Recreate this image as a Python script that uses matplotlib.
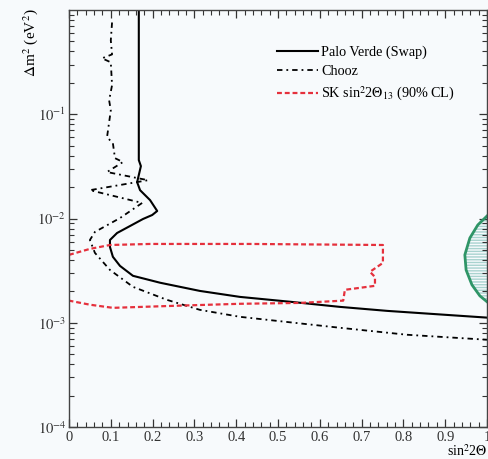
import matplotlib
matplotlib.use("Agg")
import matplotlib.pyplot as plt
from matplotlib.ticker import AutoMinorLocator, LogLocator, NullFormatter

plt.rcParams['font.family'] = ['Liberation Serif', 'DejaVu Serif']
plt.rcParams['mathtext.fontset'] = 'stix'

# Palo Verde (Swap) exclusion contour
pv_x = [0.167, 0.167, 0.167, 0.167, 0.172, 0.163, 0.170, 0.194, 0.211, 0.199, 0.177,
        0.146, 0.115, 0.098, 0.098, 0.105, 0.122, 0.153, 0.218, 0.313, 0.409, 0.529,
        0.648, 0.761, 1.0]
pv_dm2 = [1.0, 0.329, 0.109, 0.0363, 0.0318, 0.0223, 0.0187, 0.0150, 0.0118, 0.0108, 0.00989,
          0.00847, 0.00726, 0.00622, 0.00533, 0.00429, 0.00351, 0.00282, 0.00242, 0.00202, 0.00177, 0.00159,
          0.00142, 0.00130, 0.00112]

# Chooz exclusion contour
ch_x = [0.103, 0.100, 0.103, 0.079, 0.100, 0.103, 0.096, 0.100, 0.091, 0.105, 0.110,
        0.129, 0.091, 0.189, 0.050, 0.175, 0.122, 0.062, 0.050, 0.062, 0.098, 0.153,
        0.234, 0.313, 0.409, 0.648, 0.809, 1.0]
ch_dm2 = [0.759, 0.511, 0.375, 0.344, 0.315, 0.190, 0.136, 0.109, 0.0603, 0.0527, 0.0379,
          0.0348, 0.0279, 0.0233, 0.0187, 0.0141, 0.0101, 0.00743, 0.00622, 0.00468, 0.00321, 0.00221,
          0.00166, 0.00133, 0.00114, 0.000895, 0.000767, 0.000687]

# SK sin^2 2theta_13 90% CL contour
sk_x = [0.0, 0.050, 0.098, 0.194, 0.433, 0.751, 0.751, 0.720, 0.732, 0.732, 0.660,
        0.656, 0.553, 0.409, 0.266, 0.105, 0.050, 0.0]
sk_dm2 = [0.00448, 0.00511, 0.00557, 0.00570, 0.00570, 0.00557, 0.00375, 0.00308, 0.00275, 0.00226, 0.00207,
          0.00163, 0.00155, 0.00152, 0.00146, 0.00139, 0.00149, 0.00163]

# allowed region (green, hatched)
al_x = [1.0, 0.978, 0.959, 0.947, 0.950, 0.964, 0.983, 1.0]
al_dm2 = [0.01057, 0.00867, 0.0065, 0.00448, 0.00321, 0.00231, 0.00181, 0.00159]

xticks = [0, 0.1, 0.2, 0.3, 0.4, 0.5, 0.6, 0.7, 0.8, 0.9, 1.0]
xticklabels = ['0', '0.1', '0.2', '0.3', '0.4', '0.5', '0.6', '0.7', '0.8', '0.9', '1']
yticks = [1e-4, 1e-3, 1e-2, 1e-1]
yticklabels = [r'$10^{-4}$', r'$10^{-3}$', r'$10^{-2}$', r'$10^{-1}$']

bg = '#f7fafc'
fig = plt.figure(figsize=(4.88, 4.59), dpi=100, facecolor=bg)
ax = fig.add_axes([69 / 488, 1 - 427 / 459, 418 / 488, 417 / 459])
ax.set_facecolor(bg)

ax.fill(al_x, al_dm2, facecolor='none', edgecolor='#a9d3cf', hatch='------', linewidth=0)
ax.plot(al_x, al_dm2, color='#2f9567', lw=2.0)

ax.plot(pv_x, pv_dm2, color='black', lw=1.5, label='Palo Verde (Swap)')
ax.plot(ch_x, ch_dm2, color='black', lw=1.3, dashes=(3, 2.2, 1, 2.2), label='Chooz')
ax.plot(sk_x, sk_dm2, color='#e5303c', lw=1.6, dashes=(2.2, 1.3),
        label=r'SK sin$^2$2$\Theta_{13}$ (90% CL)')

ax.set_yscale('log')
ax.set_xlim(0, 1)
ax.set_ylim(1e-4, 1)
ax.set_xticks(xticks)
ax.set_xticklabels(xticklabels)
ax.set_yticks(yticks)
ax.set_yticklabels(yticklabels)
ax.xaxis.set_minor_locator(AutoMinorLocator(5))
ax.yaxis.set_minor_locator(LogLocator(base=10, subs=range(2, 10)))
ax.yaxis.set_minor_formatter(NullFormatter())
ax.tick_params(which='both', direction='in', top=True, right=True, labelsize=10.5, colors='#333333')
ax.tick_params(which='major', length=6, width=0.9)
ax.tick_params(which='minor', length=3.5, width=0.8)
ax.tick_params(axis='x', pad=3)
ax.tick_params(axis='y', pad=2)
for sp in ax.spines.values():
    sp.set_color('#444444')
    sp.set_linewidth(1.0)

leg = ax.legend(loc='upper left', bbox_to_anchor=(0.497, 0.915), frameon=False, fontsize=10.2,
                handlelength=2.9, handletextpad=0.25, labelspacing=0.45, borderpad=0, borderaxespad=0)

fig.text(31 / 488, 1 - 8 / 459, r'$\Delta$m$^2$ (eV$^2$)', rotation=90, ha='center', va='top', fontsize=11)
fig.text(487 / 488, 1 - 458.5 / 459, r'sin$^2$2$\Theta$', ha='right', va='bottom', fontsize=10)

fig.savefig('out.png', dpi=100, facecolor=bg)
